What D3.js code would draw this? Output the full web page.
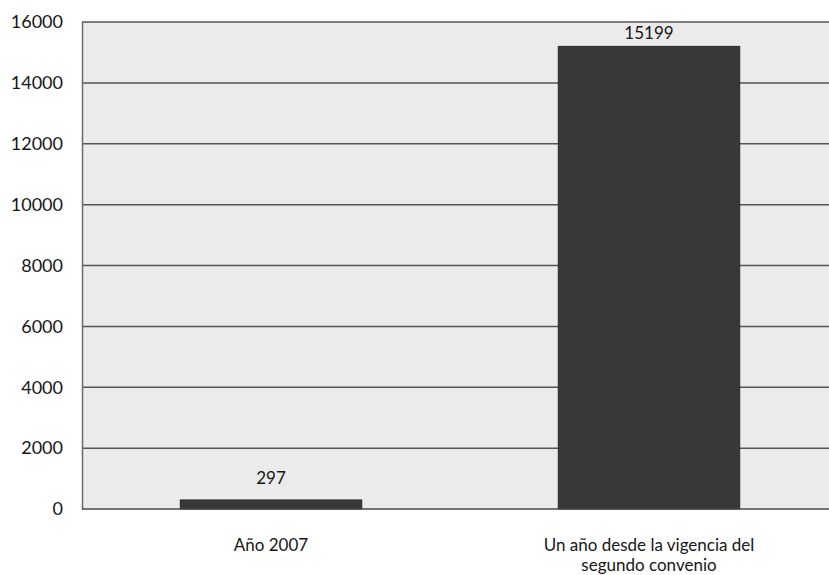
<!DOCTYPE html>
<html>
<head>
<meta charset="utf-8">
<script src="https://cdn.jsdelivr.net/npm/d3@7/dist/d3.min.js"></script>
<style>
  html, body { margin: 0; padding: 0; background: #ffffff; }
  svg { display: block; font-family: Lato, "Open Sans", sans-serif; }
</style>
</head>
<body>
<svg id="chart" width="829" height="575"></svg>
<script>
// Category labels (each entry is a list of lines) and values
const categories = ["Año 2007", "Un año desde la vigencia del segundo convenio"];
const categoryLines = [["Año 2007"], ["Un año desde la vigencia del", "segundo convenio"]];
const values = [297, 15199];
const yTicks = [0, 2000, 4000, 6000, 8000, 10000, 12000, 14000, 16000];

const svg = d3.select("#chart");
const margin = { left: 82, top: 22, bottom: 66 };
const plotRight = 838;           // plot area runs slightly past the window edge
const H = 575;

const x = d3.scaleBand()
  .domain(categories)
  .range([margin.left, plotRight])
  .paddingInner(0.52)
  .paddingOuter(0.26);

const y = d3.scaleLinear()
  .domain([0, 16000])
  .range([H - margin.bottom, margin.top]);

// plot background
svg.append("rect")
  .attr("x", margin.left)
  .attr("y", margin.top)
  .attr("width", plotRight - margin.left)
  .attr("height", y(0) - margin.top)
  .attr("fill", "#ebebeb");

// horizontal gridlines
svg.append("g")
  .selectAll("line")
  .data(yTicks.filter(d => d > 0))
  .join("line")
  .attr("x1", margin.left)
  .attr("x2", plotRight)
  .attr("y1", d => y(d))
  .attr("y2", d => y(d))
  .attr("stroke", "#555")
  .attr("stroke-width", 1.5);

// y axis
const yAxis = d3.axisLeft(y).tickValues(yTicks).tickSize(0).tickPadding(19).tickFormat(d3.format("d"));
const gy = svg.append("g")
  .attr("transform", `translate(${margin.left},0)`)
  .call(yAxis);
gy.select(".domain").attr("stroke", "#6a6a6a").attr("stroke-width", 1.5);
gy.selectAll("text")
  .attr("font-size", 18)
  .attr("fill", "#161616")
  .attr("font-family", "Lato, 'Open Sans', sans-serif");

// bars
svg.append("g")
  .selectAll("rect")
  .data(values)
  .join("rect")
  .attr("x", (d, i) => x(categories[i]))
  .attr("width", x.bandwidth())
  .attr("y", d => y(d))
  .attr("height", d => y(0) - y(d))
  .attr("fill", "#383838")
  .attr("stroke", "#2a2a2a")
  .attr("stroke-width", 1);

// x axis baseline
svg.append("line")
  .attr("x1", margin.left)
  .attr("x2", plotRight)
  .attr("y1", y(0))
  .attr("y2", y(0))
  .attr("stroke", "#4a4a4a")
  .attr("stroke-width", 1.5);

// value labels, kept inside the plot area
svg.append("g")
  .selectAll("text")
  .data(values)
  .join("text")
  .attr("x", (d, i) => x(categories[i]) + x.bandwidth() / 2)
  .attr("y", d => Math.max(y(d) - 16, margin.top + 17))
  .attr("text-anchor", "middle")
  .attr("font-size", 17)
  .attr("fill", "#161616")
  .text(d => d);

// category labels
const cat = svg.append("g")
  .selectAll("text")
  .data(categories)
  .join("text")
  .attr("x", d => x(d) + x.bandwidth() / 2)
  .attr("y", 551)
  .attr("text-anchor", "middle")
  .attr("font-size", 17)
  .attr("fill", "#161616");
cat.each(function(d, i) {
  const t = d3.select(this);
  categoryLines[i].forEach((line, j) => {
    t.append("tspan")
      .attr("x", x(d) + x.bandwidth() / 2)
      .attr("dy", j === 0 ? 0 : 20)
      .text(line);
  });
});
</script>
</body>
</html>
